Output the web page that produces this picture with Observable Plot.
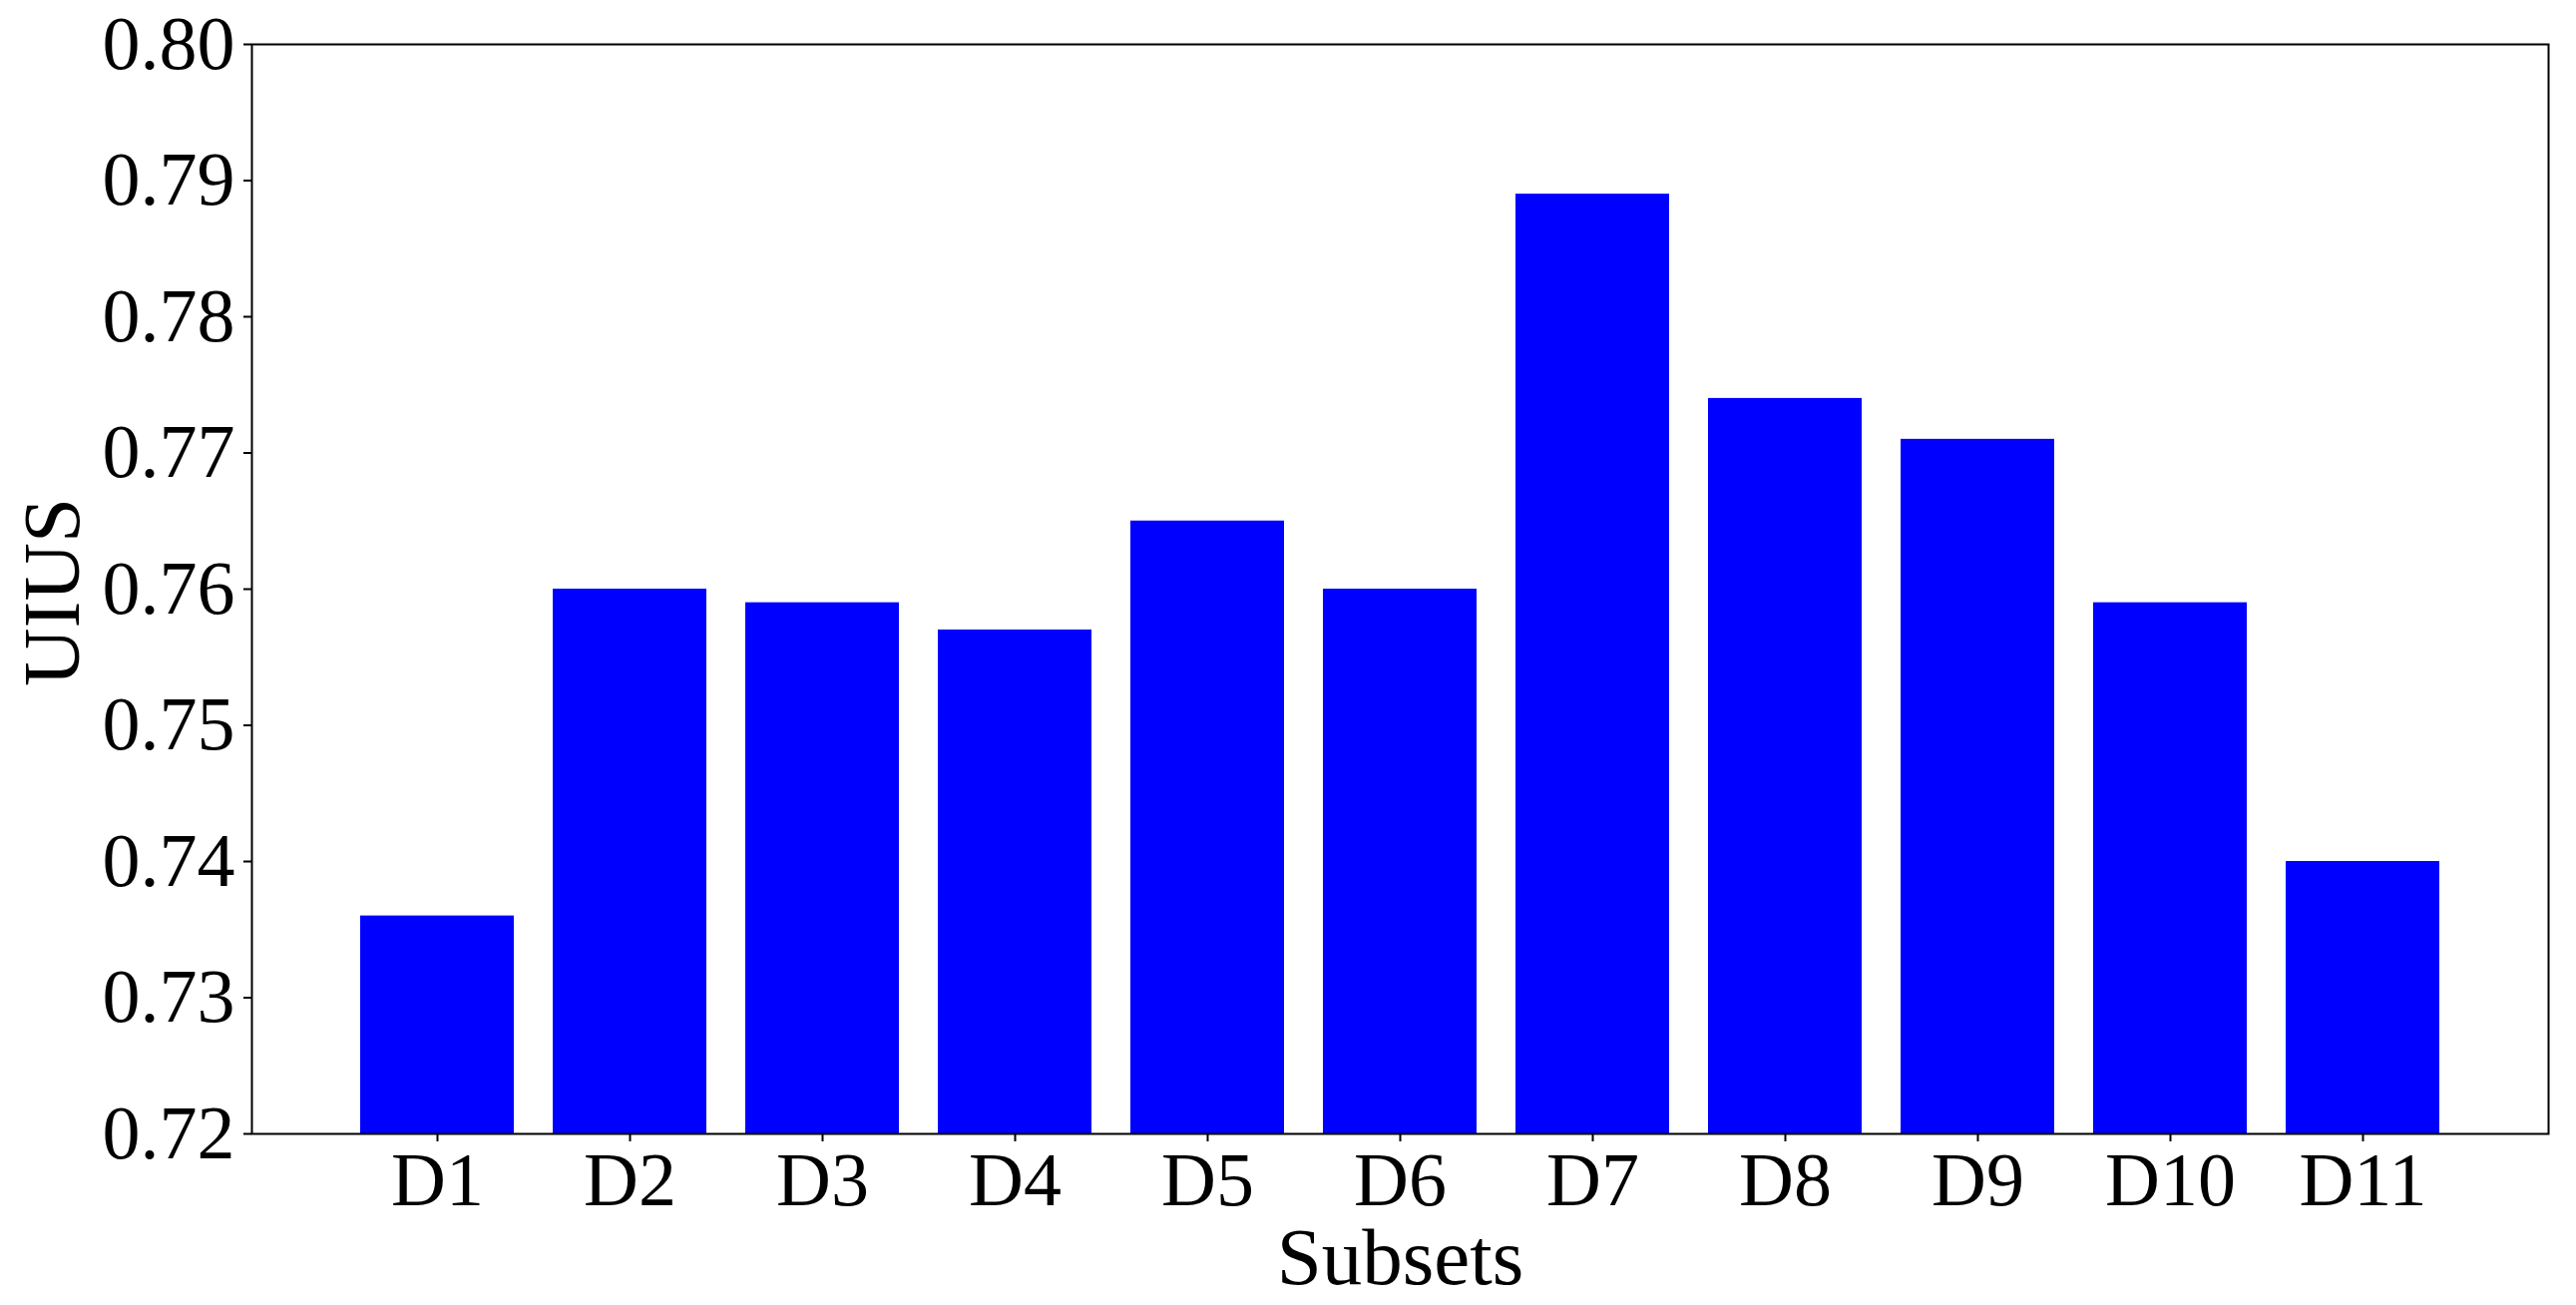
<!DOCTYPE html>
<html>
<head>
<meta charset="utf-8">
<script src="https://cdn.jsdelivr.net/npm/d3@7"></script>
<script src="https://cdn.jsdelivr.net/npm/@observablehq/plot@0.6"></script>
<style>
  html, body { margin: 0; padding: 0; background: #fff; }
  #chart { width: 2582px; height: 1308px; }
</style>
</head>
<body>
<div id="chart"></div>
<script>
const categories = ["D1", "D2", "D3", "D4", "D5", "D6", "D7", "D8", "D9", "D10", "D11"];
const values = [0.736, 0.760, 0.759, 0.757, 0.765, 0.760, 0.789, 0.774, 0.771, 0.759, 0.740];
const yTicks = [0.72, 0.73, 0.74, 0.75, 0.76, 0.77, 0.78, 0.79, 0.80];
const xLabel = "Subsets";
const yLabel = "UIUS";

const data = categories.map((c, i) => ({cat: c, value: values[i]}));
const font = "'Liberation Serif', 'Times New Roman', 'DejaVu Serif', serif";

const chart = Plot.plot({
  width: 2582,
  height: 1308,
  marginLeft: 252,
  marginRight: 28,
  marginTop: 44,
  marginBottom: 172,
  style: {fontFamily: font, background: "#fff", color: "#000"},
  x: {type: "band", domain: categories, paddingInner: 0.2, paddingOuter: 0.54},
  y: {domain: [yTicks[0], yTicks[yTicks.length - 1]]},
  marks: [
    Plot.barY(data, {x: "cat", y1: yTicks[0], y2: "value", fill: "#0000ff", clip: true}),
    Plot.frame({stroke: "#000", strokeWidth: 2}),
    Plot.axisY({ticks: yTicks, tickFormat: d => d.toFixed(2), tickSize: 8, tickPadding: 9, fontSize: 76, label: null, strokeWidth: 2}),
    Plot.axisX({tickSize: 8, tickPadding: 10, fontSize: 76, label: null, strokeWidth: 2}),
    Plot.text([xLabel], {frameAnchor: "bottom", textAnchor: "middle", lineAnchor: "middle", dy: 125, fontSize: 81, fill: "#000"}),
    Plot.text([yLabel], {frameAnchor: "left", textAnchor: "middle", lineAnchor: "middle", rotate: -90, dx: -199, dy: 3, fontSize: 81, fill: "#000"})
  ]
});
document.getElementById("chart").appendChild(chart);
</script>
</body>
</html>
